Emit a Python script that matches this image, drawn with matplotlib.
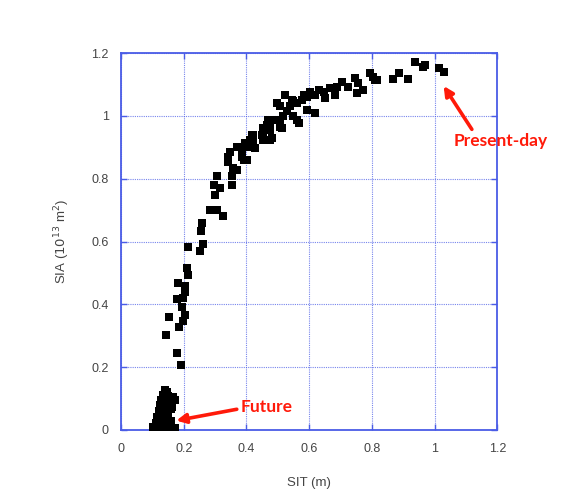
import matplotlib
matplotlib.use("Agg")
import matplotlib.pyplot as plt
import numpy as np

plt.rcParams["font.family"] = ["Liberation Sans", "DejaVu Sans"]

# ── Data ────────────────────────────────────────────────────────
sit = [
    # present-day end
    0.938, 0.970, 0.964, 1.013, 1.029, 0.888, 0.867, 0.915, 0.805, 0.816, 0.795, 0.811,
    0.747, 0.757, 0.773, 0.752, 0.725, 0.704, 0.688, 0.683, 0.667, 0.646, 0.651, 0.630,
    0.619, 0.603, 0.593, 0.582, 0.577, 0.561, 0.550, 0.539, 0.523, 0.545, 0.497, 0.507,
    0.529, 0.593, 0.619, 0.561, 0.550, 0.518, 0.507, 0.497, 0.486, 0.513, 0.476, 0.465,
    0.454, 0.454, 0.481, 0.422, 0.417, 0.566, 0.470,
    # middle
    0.507, 0.476, 0.449, 0.454, 0.476, 0.422, 0.412, 0.396, 0.428, 0.406, 0.385, 0.369,
    0.348, 0.342, 0.385, 0.391, 0.401, 0.342, 0.358, 0.369, 0.353, 0.305, 0.295, 0.316,
    0.353, 0.300, 0.284, 0.300, 0.326,
    # steep part
    0.305, 0.258, 0.254, 0.215, 0.261, 0.252, 0.210, 0.213, 0.183, 0.204, 0.204, 0.178,
    0.197, 0.194, 0.204, 0.154, 0.199, 0.186, 0.143, 0.178, 0.192,
    # future cluster
    0.140, 0.147, 0.133, 0.150, 0.167, 0.172, 0.128, 0.142, 0.157, 0.125, 0.138, 0.160,
    0.120, 0.133, 0.150, 0.115, 0.128, 0.145, 0.160, 0.110, 0.125, 0.140, 0.103, 0.118,
    0.135, 0.150, 0.160, 0.172, 0.124, 0.162, 0.114, 0.151,
]
sia = [
    1.171, 1.162, 1.154, 1.152, 1.141, 1.136, 1.118, 1.118, 1.125, 1.115, 1.136, 1.115,
    1.120, 1.104, 1.083, 1.072, 1.093, 1.109, 1.093, 1.067, 1.088, 1.077, 1.056, 1.083,
    1.067, 1.077, 1.061, 1.067, 1.051, 1.040, 1.046, 1.030, 1.067, 1.051, 1.040, 1.030,
    1.014, 1.019, 1.009, 0.987, 0.998, 0.998, 0.982, 0.987, 0.987, 0.961, 0.977, 0.971,
    0.961, 0.929, 0.929, 0.924, 0.939, 0.977, 0.987,
    0.966, 0.955, 0.939, 0.924, 0.924, 0.939, 0.924, 0.913, 0.897, 0.902, 0.892, 0.902,
    0.886, 0.870, 0.870, 0.860, 0.860, 0.854, 0.833, 0.828, 0.807, 0.807, 0.780, 0.770,
    0.780, 0.748, 0.701, 0.701, 0.682,
    0.701, 0.658, 0.635, 0.584, 0.592, 0.571, 0.515, 0.494, 0.469, 0.459, 0.440, 0.416,
    0.419, 0.393, 0.366, 0.359, 0.348, 0.329, 0.302, 0.246, 0.207,
    0.128, 0.120, 0.112, 0.108, 0.104, 0.096, 0.095, 0.090, 0.085, 0.078, 0.072, 0.068,
    0.060, 0.055, 0.050, 0.042, 0.038, 0.032, 0.030, 0.022, 0.018, 0.015, 0.010, 0.005,
    0.004, 0.008, 0.003, 0.005, 0.074, 0.074, 0.042, 0.042,
]

ticks = [0, 0.2, 0.4, 0.6, 0.8, 1.0, 1.2]
tick_labels = ["0", "0.2", "0.4", "0.6", "0.8", "1", "1.2"]

BLUE = "#4a5ce6"
RED = "#ff1a0a"

# ── Plot ────────────────────────────────────────────────────────
fig = plt.figure(figsize=(5.85, 5.0), dpi=100)
ax = fig.add_axes([0.207, 0.14, 0.643, 0.754])

ax.scatter(sit, sia, marker="s", s=34, color="black", linewidths=0, zorder=3)

ax.set_xlim(0, 1.2)
ax.set_ylim(0, 1.2)
ax.set_xticks(ticks)
ax.set_yticks(ticks)
ax.set_xticklabels(tick_labels)
ax.set_yticklabels(tick_labels)
ax.grid(True, color=BLUE, linestyle=(0, (1, 1)), linewidth=0.8, alpha=0.75)
for sp in ax.spines.values():
    sp.set_color(BLUE)
    sp.set_linewidth(1.3)
ax.tick_params(direction="in", color=BLUE, length=4, width=1,
               labelsize=9, labelcolor="#444444", pad=9,
               top=True, right=True)

ax.set_xlabel("SIT (m)", fontsize=9.5, color="#444444", labelpad=16)
ax.set_ylabel("SIA ($10^{13}$ m$^{2}$)", fontsize=9.5, color="#444444", labelpad=14)

arrow = dict(arrowstyle="-|>", color=RED, lw=2.6, mutation_scale=14,
             shrinkA=0, shrinkB=0)
ax.annotate("", xy=(0.176, 0.030), xytext=(0.369, 0.066), arrowprops=arrow,
            zorder=4)
ax.text(0.381, 0.074, "Future", color=RED, fontsize=12.5, fontweight="bold",
        family="Lato", va="center", ha="left")
ax.annotate("", xy=(1.029, 1.095), xytext=(1.119, 0.957), arrowprops=arrow,
            annotation_clip=False, zorder=4)
ax.text(1.061, 0.920, "Present-day", color=RED, fontsize=12.5, fontweight="bold",
        family="Lato", va="center", ha="left", clip_on=False)

fig.savefig("out.png", dpi=100)
